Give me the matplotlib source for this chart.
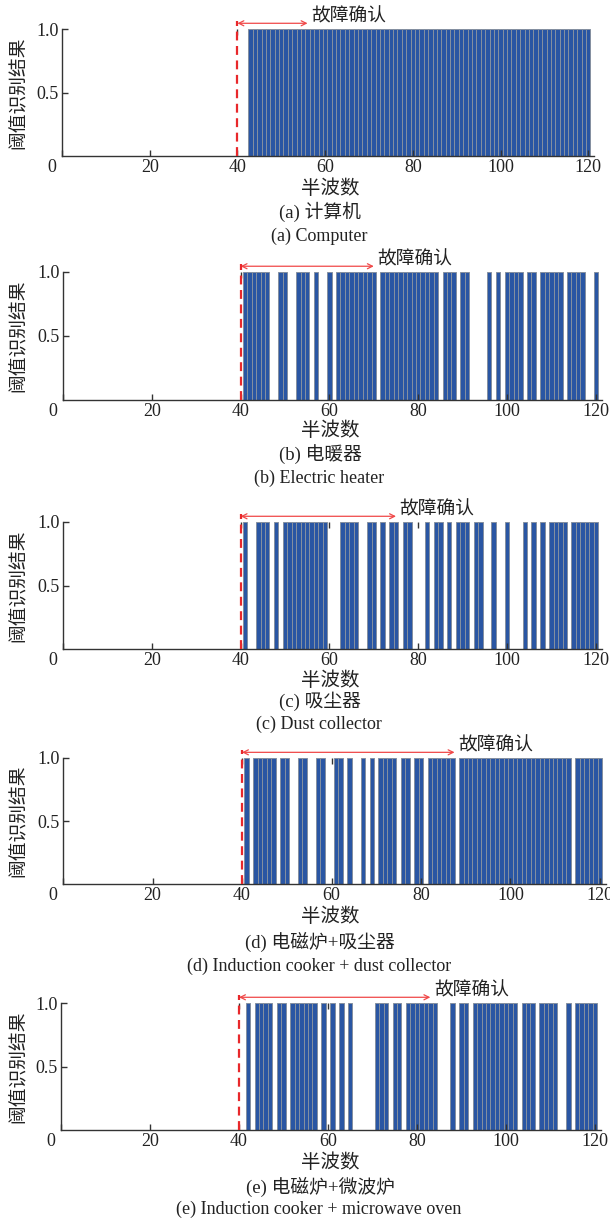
import numpy as np
import matplotlib
matplotlib.use("Agg")
import matplotlib.pyplot as plt
from matplotlib.transforms import ScaledTranslation

plt.rcParams['font.family'] = ['Liberation Serif', 'Noto Sans CJK SC']
plt.rcParams['axes.unicode_minus'] = False

# ---- data: runs (start, end inclusive) of half-wave indices where the threshold result is 1
runs_a = [(43, 120)]
runs_b = [(41, 46), (49, 50), (53, 55), (57, 57), (60, 60), (62, 70), (72, 84), (86, 88),
          (90, 91), (96, 96), (98, 98), (100, 103), (105, 106), (108, 112), (114, 117), (120, 120)]
runs_c = [(41, 41), (44, 46), (48, 48), (50, 59), (63, 66), (69, 70), (72, 72), (74, 75),
          (77, 78), (82, 82), (84, 85), (87, 87), (89, 91), (93, 94), (97, 97), (100, 100),
          (104, 104), (106, 106), (108, 108), (110, 113), (115, 120)]
runs_d = [(41, 41), (43, 47), (49, 50), (53, 54), (57, 58), (61, 62), (64, 64), (67, 67),
          (69, 69), (71, 74), (76, 77), (79, 80), (82, 87), (89, 113), (115, 120)]
runs_e = [(42, 42), (44, 47), (49, 50), (52, 57), (59, 59), (61, 61), (63, 63), (65, 65),
          (71, 73), (75, 76), (78, 84), (88, 88), (90, 91), (93, 102), (104, 106), (108, 111),
          (114, 114), (116, 120)]

fault_start = 40
confirm_points = [56, 70, 75, 87.5, 83]
xticks = [0, 20, 40, 60, 80, 100, 120]
yticks = [0.5, 1.0]
ytick_labels = ['0.5', '1.0']
ylabel = '阈值识别结果'
xlabel = '半波数'
confirm_text = '故障确认'
captions_cn = ['(a) 计算机', '(b) 电暖器', '(c) 吸尘器', '(d) 电磁炉+吸尘器', '(e) 电磁炉+微波炉']
captions_en = ['(a) Computer', '(b) Electric heater', '(c) Dust collector',
               '(d) Induction cooker + dust collector', '(e) Induction cooker + microwave oven']
all_runs = [runs_a, runs_b, runs_c, runs_d, runs_e]

W, H = 610, 1219
fig = plt.figure(figsize=(W / 100, H / 100), dpi=100)

# layout in pixels: x of zero, px per unit, y px of value 1, y px of value 0
layout = [(62, 4.385, 29, 156), (63, 4.44, 272, 400), (63, 4.44, 522, 649),
          (63, 4.475, 758, 884), (61, 4.45, 1003, 1130)]
label_y = [(189, 212, 236), (431, 454, 478), (681, 701, 724), (916, 942, 966), (1163, 1187, 1209)]

bar_face = '#2a56a3'
bar_edge = '#8590a0'
red = '#e8282b'
axc = '#333333'
XMAX = 121.3

for k, runs in enumerate(all_runs):
    x0, s, y1, y0 = layout[k]
    ax = fig.add_axes([x0 / W, 1 - y0 / H, XMAX * s / W, (y0 - y1) / H])
    idx = []
    for a, b in runs:
        idx.extend(range(a, b + 1))
    idx = np.array(idx)
    ax.bar(idx, np.ones(len(idx)), width=1.0, color=bar_face, edgecolor=bar_edge, linewidth=0.7)
    ax.set_xlim(0, XMAX)
    ax.set_ylim(0, 1.0)
    ax.set_xticks(xticks)
    ax.set_xticklabels([str(t) for t in xticks])
    ax.set_yticks(yticks)
    ax.set_yticklabels(ytick_labels)
    for sp in ['top', 'right']:
        ax.spines[sp].set_visible(False)
    for sp in ['left', 'bottom']:
        ax.spines[sp].set_color(axc)
        ax.spines[sp].set_linewidth(1.0)
    ax.tick_params(direction='in', length=4, width=1, colors=axc, labelsize=13,
                   labelcolor='#222222', pad=2.5)
    lbl0 = ax.get_xticklabels()[0]
    lbl0.set_transform(lbl0.get_transform() + ScaledTranslation(-10 / 100, 0, fig.dpi_scale_trans))
    sec = ax.secondary_xaxis('top')
    sec.set_xticks([40, 60, 80, 100, 120])
    sec.tick_params(direction='in', length=4, width=1, colors=axc, labeltop=False)
    sec.spines['top'].set_visible(False)

    # dashed fault line, arrow, and text
    ax.plot([fault_start, fault_start], [0, 1.065], color=red, ls=(0, (4, 2.5)), lw=1.6,
            clip_on=False, zorder=5)
    cp = confirm_points[k]
    ax.annotate('', xy=(fault_start, 1.045), xytext=(cp, 1.045),
                arrowprops=dict(arrowstyle='<->', color='#f04848', lw=0.9, mutation_scale=9,
                                shrinkA=0, shrinkB=0),
                annotation_clip=False)
    ax.text(cp + 0.8, 1.1, confirm_text, ha='left', va='center', fontsize=13.5,
            family=['Noto Sans CJK SC'], color='#222222', clip_on=False)

    # y label
    fig.text(18 / W, 1 - ((y0 + y1) / 2) / H, ylabel, rotation=90, ha='center', va='center',
             fontsize=13.5, family=['Noto Sans CJK SC'], color='#222222')
    ly = label_y[k]
    fig.text(330 / W, 1 - ly[0] / H, xlabel, ha='center', va='center', fontsize=14,
             family=['Noto Sans CJK SC'], color='#222222')
    fig.text(320 / W, 1 - ly[1] / H, captions_cn[k], ha='center', va='center', fontsize=13.5,
             family=['Liberation Serif', 'Noto Sans CJK SC'], color='#222222')
    fig.text(319 / W, 1 - ly[2] / H, captions_en[k], ha='center', va='center', fontsize=13,
             family=['Liberation Serif'], color='#222222')

fig.savefig('out.png', dpi=100)
